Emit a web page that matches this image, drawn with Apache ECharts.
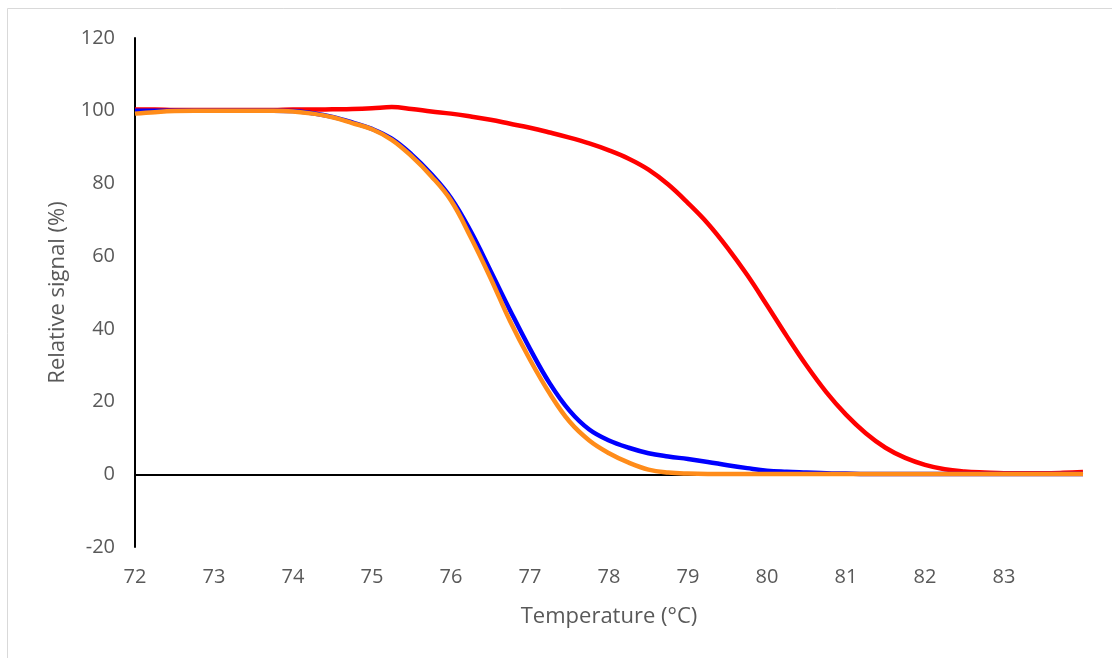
<!DOCTYPE html>
<html>
<head>
<meta charset="utf-8">
<script src="https://cdn.jsdelivr.net/npm/echarts@6/dist/echarts.min.js"></script>
<style>html,body{margin:0;padding:0;background:#fff}#c{width:1112px;height:658px}</style>
</head>
<body>
<div id="c"></div>
<script>
const temperatures = [72,72.25,72.5,72.75,73,73.25,73.5,73.75,74,74.25,74.5,74.75,75,75.25,75.5,75.75,76,76.25,76.5,76.75,77,77.25,77.5,77.75,78,78.25,78.5,78.75,79,79.25,79.5,79.75,80,80.25,80.5,80.75,81,81.25,81.5,81.75,82,82.25,82.5,82.75,83,83.25,83.5,83.75,84];
const redValues = [100.3,100.3,100.2,100.2,100.2,100.2,100.2,100.2,100.3,100.3,100.4,100.5,100.7,101.0,100.5,99.8,99.2,98.4,97.5,96.4,95.3,94.0,92.6,91.0,89.1,86.8,83.8,79.7,74.6,69.0,62.3,54.8,46.5,38.0,29.9,22.6,16.4,11.3,7.3,4.5,2.6,1.4,0.8,0.5,0.3,0.3,0.3,0.4,0.6];
const blueValues = [100,100,100,100,100,100,100,100,99.9,99.3,98.3,96.8,95,92.3,88,82.6,76.0,66.8,56,45,34.5,25,17.5,12.3,9.3,7.3,5.8,4.9,4.2,3.4,2.5,1.7,1.0,0.7,0.5,0.3,0.2,0.1,0.1,0.1,0.1,0.1,0.1,0.1,0.1,0.1,0.1,0.1,0.1];
const orangeValues = [99.2,99.6,99.9,100,100,100,100,100,99.8,99.2,98.2,96.6,94.9,92.0,87.5,82.0,75.3,65.2,54,42,31.5,22.2,14.5,9.3,5.8,3.2,1.3,0.5,0.2,0.1,0.1,0.1,0.1,0.1,0.1,0.1,0.1,0.1,0.1,0.1,0.1,0.1,0.1,0.1,0.1,0.1,0.1,0.1,0.1];
const xTicks = {min: 72, max: 84, interval: 1};
const yTicks = {min: -20, max: 120, interval: 20};

const pair = (vals) => temperatures.map((t, i) => [t, vals[i]]);
const font = 'Open Sans';
const chart = echarts.init(document.getElementById('c'));
chart.setOption({
  animation: false,
  backgroundColor: '#fff',
  graphic: [{type: 'rect', shape: {x: 7.5, y: 8.5, width: 1120, height: 660}, style: {fill: 'none', stroke: '#d9d9d9', lineWidth: 1}, silent: true}],
  grid: {left: 135, right: 29, top: 38, bottom: 111},
  xAxis: {
    type: 'value', min: xTicks.min, max: xTicks.max, interval: xTicks.interval,
    name: 'Temperature (°C)', nameLocation: 'middle', nameGap: 59,
    nameTextStyle: {fontFamily: font, fontSize: 22, color: '#595959'},
    axisLine: {show: false, onZero: false}, axisTick: {show: false}, splitLine: {show: false},
    axisLabel: {fontFamily: font, fontSize: 20, color: '#595959', margin: 20, showMaxLabel: false}
  },
  yAxis: {
    type: 'value', min: yTicks.min, max: yTicks.max, interval: yTicks.interval,
    name: 'Relative signal (%)', nameLocation: 'middle', nameGap: 66,
    nameTextStyle: {fontFamily: font, fontSize: 22, color: '#595959'},
    axisLine: {show: true, lineStyle: {color: '#000', width: 2}}, axisTick: {show: false}, splitLine: {show: false},
    axisLabel: {fontFamily: font, fontSize: 20, color: '#595959', margin: 20}
  },
  series: [
    {type: 'line', data: pair(redValues), smooth: 0.4, showSymbol: false, lineStyle: {color: '#ff0000', width: 4.5}, z: 2,
     markLine: {silent: true, symbol: 'none', label: {show: false}, lineStyle: {color: '#000', width: 2, type: 'solid'}, data: [{yAxis: 0}], z: 1}},
    {type: 'line', data: pair(blueValues), smooth: 0.4, showSymbol: false, lineStyle: {color: '#0000ff', width: 4.5}, z: 3},
    {type: 'line', data: pair(orangeValues), smooth: 0.4, showSymbol: false, lineStyle: {color: '#ff8c1a', width: 4.5}, z: 4}
  ]
});
</script>
</body>
</html>
